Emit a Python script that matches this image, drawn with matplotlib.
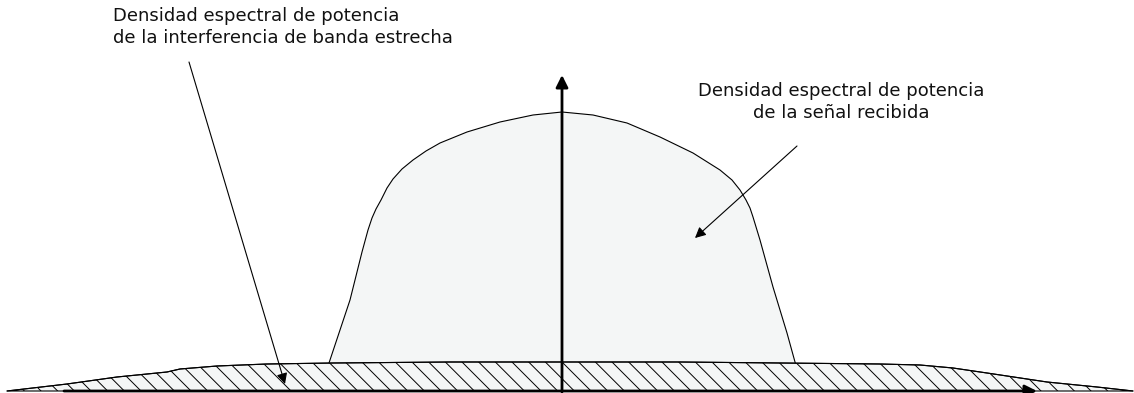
import numpy as np
import matplotlib.pyplot as plt

# pixel-like coordinates of the sketch (y grows downward)
signal_x = [318, 329, 340, 350, 362, 368, 372, 376, 381, 387, 393, 402, 413, 426, 440, 467, 500, 533, 562,
            593, 627, 660, 693, 720, 732, 740, 746, 750, 753, 760, 773, 787, 795, 805]
signal_y = [391, 363, 330, 300, 252, 230, 218, 209, 200, 188, 179, 169, 160, 151, 143, 132, 122, 115, 112,
            115, 123, 137, 153, 170, 180, 190, 200, 208, 217, 240, 287, 333, 362, 391]

interf_x = [7, 67, 117, 167, 180, 217, 267, 333, 450, 562, 680, 780, 880, 920, 953, 987, 1047, 1097, 1133]
interf_y = [391, 384, 377, 372, 369, 366, 364, 363, 362, 362, 362, 363, 364, 365, 368, 373, 382, 387, 391]

label_interf = "Densidad espectral de potencia\nde la interferencia de banda estrecha"
label_signal = "Densidad espectral de potencia\nde la señal recibida"

plt.rcParams['font.family'] = ['DejaVu Sans']
plt.rcParams['hatch.linewidth'] = 0.7

fig = plt.figure(figsize=(11.34, 3.93), dpi=100)
ax = fig.add_axes([0, 0, 1, 1])
ax.set_xlim(0, 1134)
ax.set_ylim(393, 0)
ax.axis('off')

# signal PSD
ax.fill(signal_x, signal_y, facecolor='#f4f6f6', edgecolor='black', lw=0.8, zorder=1)

# interference PSD, hatched
ax.fill(interf_x, interf_y, facecolor='#f4f6f6', edgecolor='black', hatch='\\\\', lw=0.8, zorder=2)
ax.plot(interf_x, interf_y, color='black', lw=0.8, zorder=3)

# axes arrows
ax.annotate('', xy=(1037, 391), xytext=(64, 391),
            arrowprops=dict(arrowstyle='-|>', lw=2, color='black', mutation_scale=18,
                            shrinkA=0, shrinkB=0), zorder=4)
ax.annotate('', xy=(562, 75), xytext=(562, 392),
            arrowprops=dict(arrowstyle='-|>', lw=2, color='black', mutation_scale=18,
                            shrinkA=0, shrinkB=0), zorder=4)

# labels
ax.text(113, 27, label_interf, ha='left', va='center', fontsize=13, linespacing=1.3,
        color='#111111')
ax.text(841, 102, label_signal, ha='center', va='center', fontsize=13, linespacing=1.3,
        color='#111111')

ax.annotate('', xy=(285, 384), xytext=(189, 62),
            arrowprops=dict(arrowstyle='-|>', lw=0.8, color='black', mutation_scale=16,
                            shrinkA=0, shrinkB=0), zorder=5)
ax.annotate('', xy=(695, 238), xytext=(797, 146),
            arrowprops=dict(arrowstyle='-|>', lw=0.8, color='black', mutation_scale=16,
                            shrinkA=0, shrinkB=0), zorder=5)

fig.savefig('out.png', dpi=100)
